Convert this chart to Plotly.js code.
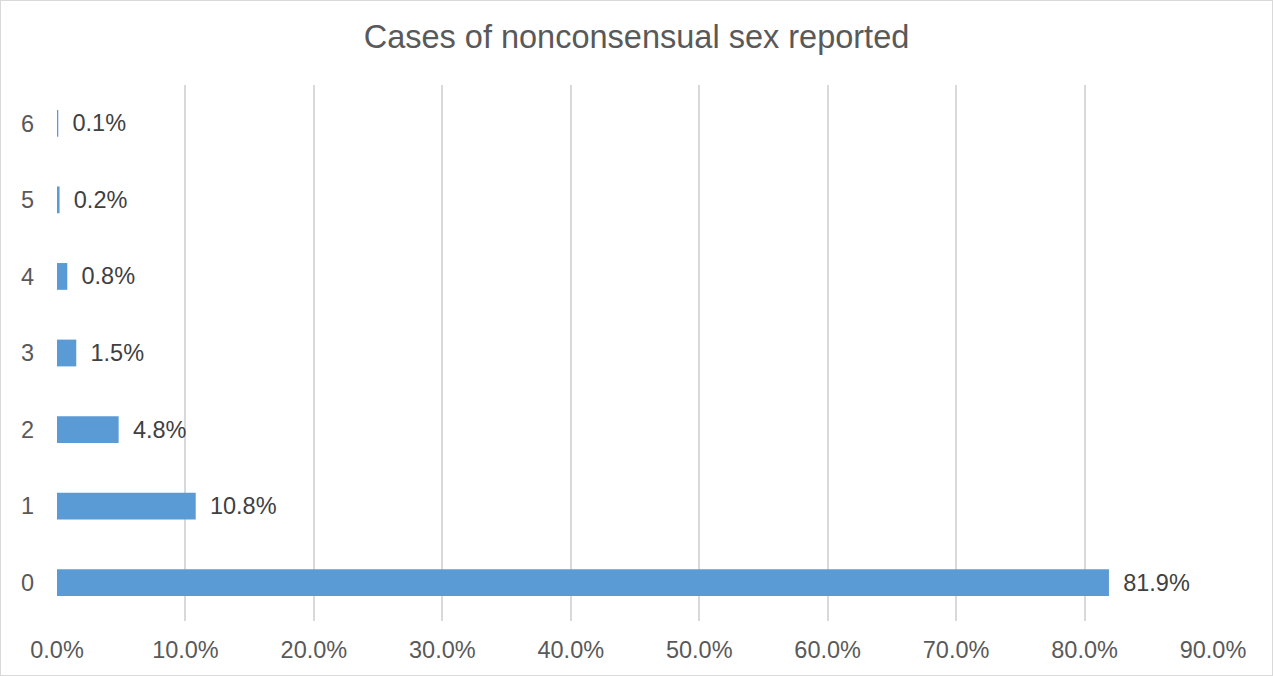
<!DOCTYPE html>
<html><head><meta charset="utf-8">
<script src="https://cdn.plot.ly/plotly-3.0.1.min.js"></script>
<style>
html,body{margin:0;padding:0;background:#fff;}
#chart{width:1271px;height:674px;border:1px solid #d9d9d9;}
</style></head>
<body><div id="chart"></div>
<script>
const categories = ["0","1","2","3","4","5","6"];
const values = [81.9, 10.8, 4.8, 1.5, 0.8, 0.2, 0.1];
const xTicks = [0,10,20,30,40,50,60,70,80,90];
const xTickLabels = xTicks.map(v => v.toFixed(1) + "%");
const titleText = "Cases of nonconsensual sex reported";

const font = {family: "Liberation Sans, Arial, sans-serif", color: "#595959", size: 23.5};

Plotly.newPlot("chart", [{
  type: "bar",
  orientation: "h",
  y: categories,
  x: values,
  width: 0.35,
  marker: {color: "#5b9bd5"},
  text: values.map(v => " \u2009" + v.toFixed(1) + "%"),
  textposition: "outside",
  cliponaxis: false,
  textfont: {family: font.family, color: "#404040", size: 23.5},
  hoverinfo: "none"
}], {
  width: 1271, height: 674,
  margin: {l: 56, r: 59, t: 84, b: 54},
  paper_bgcolor: "#fff", plot_bgcolor: "#fff",
  font: font,
  showlegend: false,
  title: {text: titleText, x: 0.5, xanchor: "center", y: 0.947, yanchor: "middle",
          font: {family: font.family, color: "#595959", size: 32.5}},
  xaxis: {range: [0, 90], tickvals: xTicks, ticktext: xTickLabels,
          showgrid: true, gridcolor: "#d9d9d9", gridwidth: 2, zeroline: false,
          showline: false, ticks: "", ticklabelstandoff: 12, fixedrange: true,
          automargin: false},
  yaxis: {type: "category", categoryorder: "array", categoryarray: categories,
          showgrid: false, zeroline: false, showline: false, ticks: "",
          ticklabelstandoff: 22, fixedrange: true, automargin: false}
}, {displayModeBar: false, staticPlot: true});
</script></body></html>
